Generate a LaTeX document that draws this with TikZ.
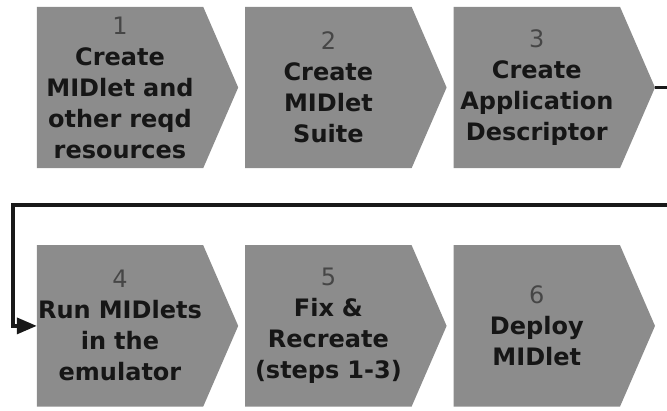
\documentclass[tikz,border=0pt]{standalone}
\usepackage{xcolor}
\usepackage{fontspec}
\usepackage{tikz}
\usetikzlibrary{arrows.meta, positioning, calc, backgrounds}
\newfontfamily\boxfont{DejaVu Sans}
\definecolor{boxgray}{RGB}{140,140,140}
\definecolor{txtdark}{RGB}{22,22,22}
\definecolor{numgray}{RGB}{70,70,70}
\definecolor{linedark}{RGB}{25,25,25}
\tikzset{
  stepbox/.style={rectangle, draw=none, text width=166pt, inner xsep=0pt,
    inner ysep=0pt, align=center, minimum height=161pt, text=txtdark,
    font=\boxfont\bfseries\fontsize{24}{31}\selectfont},
  chevron/.style={fill=boxgray},
  flowline/.style={-{Triangle[length=20pt,width=16pt]}, line width=3.5pt, color=linedark}
}
\newcommand{\stepnum}[1]{{\mdseries\color{numgray}#1}}

\begin{document}
\begin{tikzpicture}[x=1pt, y=-1pt, node distance=77pt and 42pt]
  \useasboundingbox (0,0) rectangle (667,410);

  % Steps
  \node[stepbox] (s1) at (120,87.5) {\stepnum{1}\\Create\\MIDlet and\\other reqd\\resources};
  \node[stepbox, right=of s1] (s2) {\stepnum{2}\\Create\\MIDlet\\Suite};
  \node[stepbox, right=of s2] (s3) {\stepnum{3}\\Create\\Application\\Descriptor};
  \node[stepbox, below=of s1] (s4) {\stepnum{4}\\Run MIDlets\\in the\\emulator};
  \node[stepbox, right=of s4] (s5) {\stepnum{5}\\Fix \&\\Recreate\\(steps 1-3)};
  \node[stepbox, right=of s5] (s6) {\stepnum{6}\\Deploy\\MIDlet};

  % Chevron bodies behind the text
  \begin{scope}[on background layer]
    \foreach \s in {s1,s2,s3,s4,s5,s6}
      \fill[chevron] (\s.north west) -- (\s.north east) -- ($(\s.east)+(35,0)$)
        -- (\s.south east) -- (\s.south west) -- cycle;
  \end{scope}

  % Paths
  \coordinate (s3tip) at ($(s3.east)+(35,0)$);
  \coordinate (turnR) at (700,205);
  \coordinate (turnL) at (13,205);
  \draw[flowline] (s3tip) -| (turnR) -- (turnL) |- (s4.west);
\end{tikzpicture}
\end{document}
